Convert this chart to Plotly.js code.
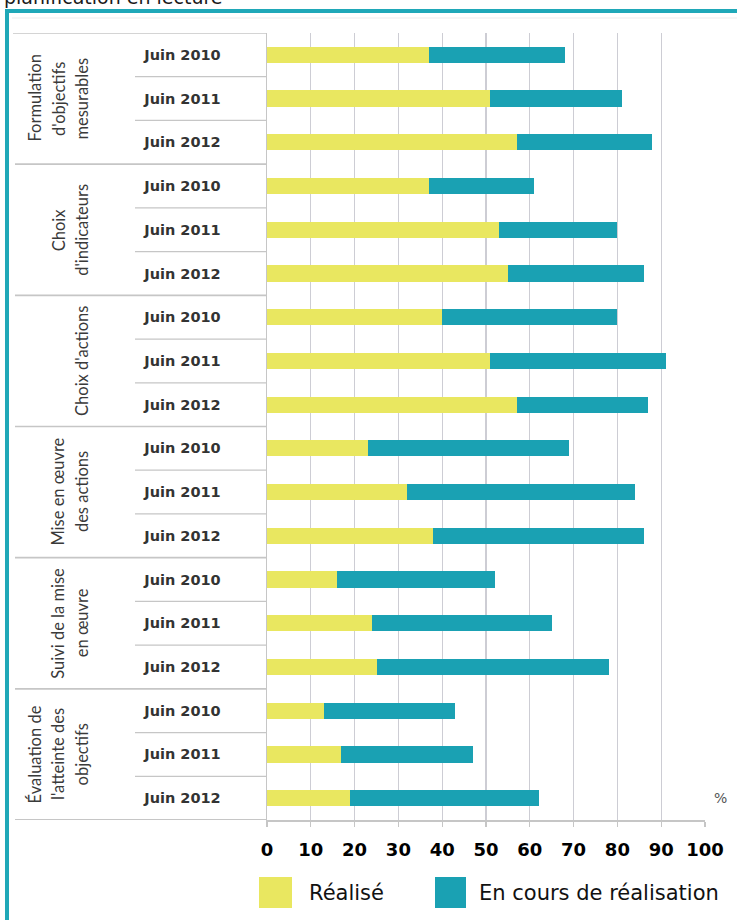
<!DOCTYPE html>
<html>
<head>
<meta charset="utf-8">
<script src="https://cdn.plot.ly/plotly-3.0.1.min.js"></script>
<style>
  html, body { margin: 0; padding: 0; background: #ffffff; }
  #chart { width: 737px; height: 920px; }
</style>
</head>
<body>
<div id="chart"></div>
<script>
// Étapes de la démarche (une ligne par segment du libellé vertical)
const groupLines = [
  ["Formulation", "d'objectifs", "mesurables"],
  ["Choix", "d'indicateurs"],
  ["Choix d'actions"],
  ["Mise en œuvre", "des actions"],
  ["Suivi de la mise", "en œuvre"],
  ["Évaluation de", "l'atteinte des", "objectifs"]
];
const years = ["Juin 2010", "Juin 2011", "Juin 2012"];

// Pourcentages par ligne (étape × année, dans l'ordre d'affichage)
const realise  = [37, 51, 57,  37, 53, 55,  40, 51, 57,  23, 32, 38,  16, 24, 25,  13, 17, 19];
const enCours  = [31, 30, 31,  24, 27, 31,  40, 40, 30,  46, 52, 48,  36, 41, 53,  30, 30, 43];

const seriesNames = ["Réalisé", "En cours de réalisation"];
const colors = ["#e9e760", "#1aa1b3"];
const xTicks = [0, 10, 20, 30, 40, 50, 60, 70, 80, 90, 100];

// Lignes : position numérique + libellé d'année
const rowPos = [];
const rowLabel = [];
groupLines.forEach((g, gi) => {
  years.forEach((yr, k) => {
    rowPos.push(gi * years.length + k);
    rowLabel.push(yr);
  });
});

// Géométrie de la zone de tracé (pixels)
const W = 737, H = 920;
const M = { l: 267, r: 32, t: 33, b: 100 };
const plotW = W - M.l - M.r, plotH = H - M.t - M.b;
const px = p => (p - M.l) / plotW;          // pixel x -> paper x
const py = p => (H - M.b - p) / plotH;      // pixel y -> paper y

const traces = [
  {
    type: "bar", orientation: "h", name: seriesNames[0],
    x: realise, y: rowPos,
    marker: { color: colors[0] },
    hoverinfo: "skip", showlegend: false
  },
  {
    type: "bar", orientation: "h", name: seriesNames[1],
    x: enCours, y: rowPos,
    marker: { color: colors[1] },
    hoverinfo: "skip", showlegend: false
  }
];

const sepColor = "#c6c6c6";
const shapes = [];

// Séparateurs de lignes : pleine largeur entre étapes, colonne des années sinon
for (let b = 0; b < rowPos.length - 1; b++) {
  const isGroup = (b + 1) % years.length === 0;
  shapes.push({
    type: "line", xref: "paper", yref: "y",
    x0: px(isGroup ? 15 : 135), x1: 0, y0: b + 0.5, y1: b + 0.5,
    line: { color: sepColor, width: isGroup ? 1.6 : 1.3 }
  });
}
// Bords haut et bas du tableau des libellés
shapes.push({ type: "line", xref: "paper", yref: "y", x0: px(13), x1: 0, y0: -0.5, y1: -0.5,
  line: { color: sepColor, width: 1.6 } });
shapes.push({ type: "line", xref: "paper", yref: "y", x0: px(15), x1: 0, y0: rowPos.length - 0.5, y1: rowPos.length - 0.5,
  line: { color: sepColor, width: 1.8 } });

// Cadre de la figure
shapes.push({ type: "line", xref: "paper", yref: "paper", x0: px(12), x1: px(737), y0: py(18), y1: py(18),
  line: { color: "#ededed", width: 1 } });
shapes.push({ type: "line", xref: "paper", yref: "paper", x0: px(5), x1: px(740), y0: py(11), y1: py(11),
  line: { color: "#1fa8b8", width: 4 } });
shapes.push({ type: "line", xref: "paper", yref: "paper", x0: px(7), x1: px(7), y0: py(9), y1: py(925),
  line: { color: "#1fa8b8", width: 4 } });

// Légende : carrés de couleur
const legendBoxes = [[259, 292], [435, 466]];
legendBoxes.forEach((bx, i) => {
  shapes.push({ type: "rect", xref: "paper", yref: "paper",
    x0: px(bx[0]), x1: px(bx[1]), y0: py(908), y1: py(877),
    fillcolor: colors[i], line: { width: 0 } });
});

const annotations = [];

// Libellés verticaux des étapes
groupLines.forEach((lines, gi) => {
  const n = lines.length;
  lines.forEach((txt, j) => {
    annotations.push({
      xref: "paper", yref: "y",
      x: px(82 - (n - 1 - j) * 23.5), y: gi * years.length + 1,
      text: txt, textangle: -90, showarrow: false,
      xanchor: "center", yanchor: "middle",
      font: { family: "Lato, 'Noto Sans', sans-serif", size: 16.5, color: "#3a3a3a" }
    });
  });
});

// Textes de légende
const legendTextX = [307, 477];
seriesNames.forEach((nm, i) => {
  annotations.push({
    xref: "paper", yref: "paper", x: px(legendTextX[i]), y: py(893),
    text: nm, showarrow: false, xanchor: "left", yanchor: "middle",
    font: { family: "'DejaVu Sans', sans-serif", size: 21, color: "#111111" }
  });
});

// Unité
annotations.push({
  xref: "paper", yref: "y", x: px(720), y: rowPos.length - 1,
  text: "%", showarrow: false, xanchor: "center", yanchor: "middle",
  font: { family: "'DejaVu Sans', sans-serif", size: 14, color: "#555555" }
});

// Titre (coupé par le haut de la page)
annotations.push({
  xref: "paper", yref: "paper", x: px(2), y: py(10),
  text: "planification en lecture", showarrow: false,
  xanchor: "left", yanchor: "bottom",
  font: { family: "'DejaVu Sans', sans-serif", size: 19, color: "#1a1a1a" }
});

const layout = {
  width: W, height: H,
  margin: M,
  paper_bgcolor: "#ffffff", plot_bgcolor: "#ffffff",
  barmode: "stack", bargap: 0.63,
  showlegend: false,
  xaxis: {
    range: [0, 100], tickvals: xTicks, ticktext: xTicks.map(String),
    showgrid: true, gridcolor: "#cdcdd4", gridwidth: 1.2,
    zeroline: false,
    showline: true, linecolor: sepColor, linewidth: 1.6,
    ticks: "outside", ticklen: 5, tickcolor: sepColor, tickwidth: 1.2,
    ticklabelstandoff: 8,
    tickfont: { family: "'DejaVu Sans', sans-serif", size: 18, color: "#000000", weight: "bold" },
    fixedrange: true
  },
  yaxis: {
    range: [rowPos.length - 0.5, -0.5],
    tickvals: rowPos, ticktext: rowLabel,
    showgrid: false, zeroline: false,
    showline: true, linecolor: sepColor, linewidth: 1.4,
    ticks: "", ticklabelstandoff: 42,
    tickfont: { family: "'DejaVu Sans', sans-serif", size: 14.5, color: "#333333", weight: "bold" },
    fixedrange: true
  },
  shapes: shapes,
  annotations: annotations
};

Plotly.newPlot("chart", traces, layout, { displayModeBar: false, staticPlot: true });
</script>
</body>
</html>
